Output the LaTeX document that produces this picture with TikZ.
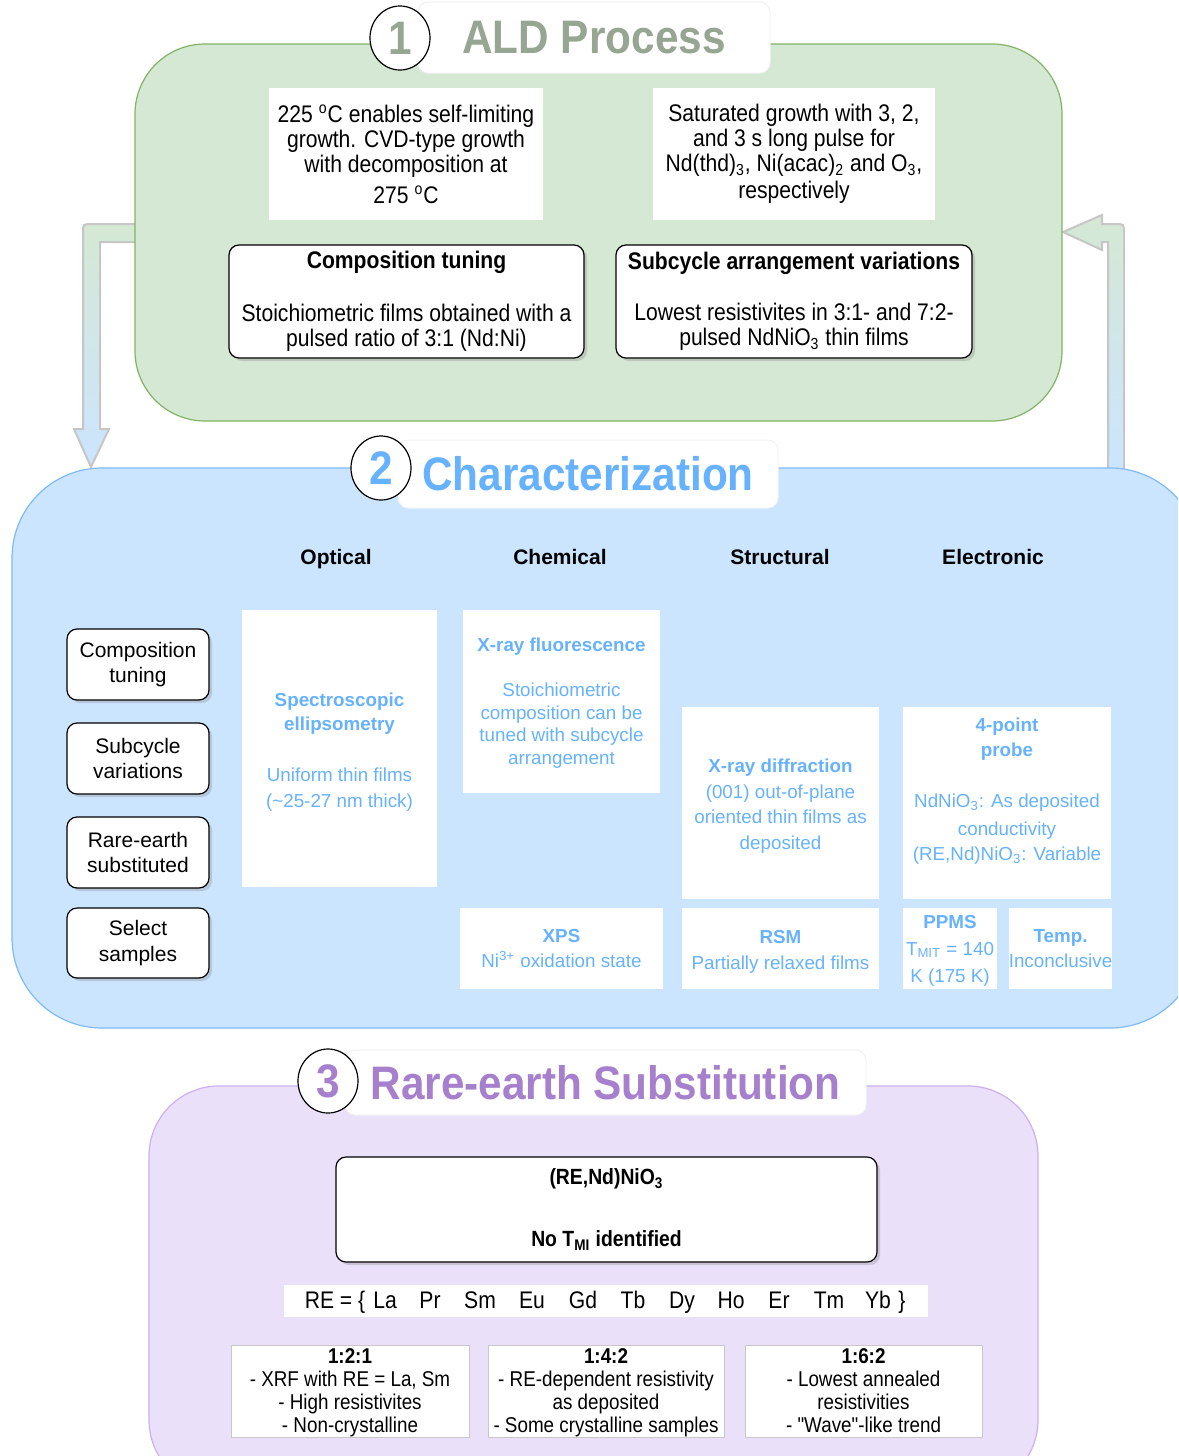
\documentclass[tikz,border=0pt]{standalone}
\usepackage{fontspec}
\setmainfont{Liberation Sans}
\newfontfamily\nsans[FakeStretch=0.88]{Liberation Sans}
\newfontfamily\tsans[FakeStretch=0.9]{Liberation Sans}
\usetikzlibrary{shapes.geometric,shadows}

\definecolor{grfill}{HTML}{D5E8D4}
\definecolor{grline}{HTML}{82B366}
\definecolor{grtitle}{HTML}{97A593}
\definecolor{blfill}{HTML}{CCE5FF}
\definecolor{blline}{HTML}{7FBAF7}
\definecolor{bltext}{HTML}{66B2FF}
\definecolor{pufill}{HTML}{EAE0FA}
\definecolor{puline}{HTML}{CDB0F0}
\definecolor{putitle}{HTML}{A680CC}
\definecolor{arrline}{HTML}{C6C6C6}
\definecolor{thinline}{HTML}{C8C8C8}

\newcommand\titlefont{\tsans\bfseries\fontsize{23.5}{28}\selectfont}
\newcommand\onefont{\nsans\fontsize{12}{12.5}\selectfont}
\newcommand\twofont{\fontsize{9.4}{12.7}\selectfont}
\newcommand\sidefont{\fontsize{10.5}{12.8}\selectfont}
\newcommand\threefont{\nsans\fontsize{10.7}{11.5}\selectfont}
% extra room above the first line of a text block
\newcommand\topgap{\rule{0pt}{10pt}}
\newcommand\smallgap{\rule{0pt}{8.5pt}}

% box from its corners (x1,y1)-(x2,y2), in the picture's units
\newcommand\placebox[7]{%
  \node[#6, minimum width={(#4-#2)*0.5pt}, minimum height={(#5-#3)*0.5pt}]
    (#1) at ({(#2+#4)/2},{(#3+#5)/2}) {#7};}

\tikzset{
  panel/.style={inner sep=0pt, outer sep=0pt, line width=0.6pt},
  tab/.style={fill=white, draw=black!5, rounded corners=5pt, inner sep=0pt, line width=0.5pt},
  numcirc/.style={ellipse, draw=black, fill=white, line width=0.6pt, inner sep=0pt,
    minimum width=30pt, minimum height=32pt, font=\titlefont},
  whitebox/.style={fill=white, inner sep=0pt, outer sep=0pt, align=center},
  roundbox/.style={fill=white, draw=black, rounded corners=5pt, line width=0.6pt,
    align=center, inner sep=0pt, outer sep=0pt,
    drop shadow={shadow xshift=1.5pt, shadow yshift=-1.5pt, opacity=0.3}},
  methodbox/.style={whitebox, text=bltext, font=\twofont},
  ratiobox/.style={whitebox, draw=thinline, line width=0.4pt},
  ratiotext/.style={align=center, inner sep=0pt, font=\threefont},
  colhead/.style={anchor=base, font=\bfseries\fontsize{10.5}{12}\selectfont},
  flowarrow/.style={draw=arrline, line width=1pt, top color=grfill, bottom color=blfill,
    line join=miter}
}

\begin{document}
\begin{tikzpicture}[x=0.5pt,y=-0.5pt]
\useasboundingbox (0,0) rectangle (1178,1456);
\clip (0,0) rectangle (1178,1456);

% feedback arrows between the ALD and characterization panels
\path[flowarrow] (140,242) -- (140,224) -- (92,224) .. controls (83,224) .. (83,233)
  -- (83,429) -- (74,429) -- (91,467) -- (109,429) -- (100,429) -- (100,242) -- cycle;
\path[flowarrow] (1108,469) -- (1108,242) -- (1102,242) -- (1102,250) -- (1063,232)
  -- (1102,215) -- (1102,224) -- (1115,224) .. controls (1124,224) .. (1124,233)
  -- (1124,469) -- cycle;

% the three panels
\placebox{ald}{135}{44}{1062}{421}{panel, fill=grfill, draw=grline, rounded corners=35pt}{}
\placebox{char}{12}{468}{1200}{1028}{panel, fill=blfill, draw=blline, rounded corners=45pt}{}
\placebox{subst}{149}{1086}{1038}{1490}{panel, fill=pufill, draw=puline, rounded corners=35pt}{}

% panel titles
\placebox{aldtab}{418}{2}{770}{73}{tab, text=grtitle, font=\titlefont}{ALD Process}
\node[numcirc, text=grtitle] (n1) at (400,38) {1};
\placebox{chartab}{398}{440}{778}{508}{tab, text=bltext, font=\titlefont}{Characterization}
\node[numcirc, text=bltext] (n2) at (381,468) {2};
\placebox{subtab}{345}{1050}{866}{1115}{tab, text=putitle, font=\titlefont}{Rare-earth Substitution}
\node[numcirc, text=putitle] (n3) at (328,1081) {3};

% ---- 1: ALD process
\placebox{temp}{269}{88}{543}{220}{whitebox, font=\onefont}{225 \textsuperscript{o}C enables self-limiting\\
  growth. CVD-type growth\\ with decomposition at\\[3pt] 275 \textsuperscript{o}C}
\placebox{pulse}{653}{88}{935}{220}{whitebox, font=\onefont}{Saturated growth with 3, 2,\\
  and 3 s long pulse for\\ Nd(thd)\textsubscript{3}, Ni(acac)\textsubscript{2} and O\textsubscript{3},\\[1pt] respectively}
\placebox{comp}{229}{245}{584}{358}{roundbox, font=\onefont}{\textbf{Composition tuning}\\[14pt]
  Stoichiometric films obtained with a\\ pulsed ratio of 3:1 (Nd:Ni)}
\placebox{subc}{616}{245}{972}{358}{roundbox, font=\onefont}{\textbf{Subcycle arrangement variations}\\[13pt]
  Lowest resistivites in 3:1- and 7:2-\\ pulsed NdNiO\textsubscript{3} thin films}

% ---- 2: characterization
\node[colhead] (hopt) at (336,564) {Optical};
\node[colhead] (hchem) at (560,564) {Chemical};
\node[colhead] (hstr) at (780,564) {Structural};
\node[colhead] (hel) at (993,564) {Electronic};

\placebox{s1}{67}{629}{209}{700}{roundbox, font=\sidefont}{Composition\\tuning}
\placebox{s2}{67}{723}{209}{794}{roundbox, font=\sidefont}{Subcycle\\variations}
\placebox{s3}{67}{817}{209}{888}{roundbox, font=\sidefont}{Rare-earth\\substituted}
\placebox{s4}{67}{908}{209}{978}{roundbox, font=\sidefont}{Select\\samples}

\placebox{se}{242}{610}{437}{887}{methodbox, font=\fontsize{9.4}{12}\selectfont}{\topgap\textbf{Spectroscopic}\\
  \textbf{ellipsometry}\\[13.5pt] Uniform thin films\\[1pt] (\textasciitilde25-27 nm thick)}
\placebox{xrf}{463}{610}{660}{793}{methodbox, font=\fontsize{9.4}{11.35}\selectfont}{\smallgap\textbf{X-ray fluorescence}\\[11pt]
  Stoichiometric\\ composition can be\\ tuned with subcycle\\ arrangement}
\placebox{xrd}{682}{707}{879}{899}{methodbox}{\topgap\textbf{X-ray diffraction}\\
  (001) out-of-plane\\ oriented thin films as\\ deposited}
\placebox{fpp}{903}{707}{1111}{899}{methodbox}{}
\node[align=center, text=bltext, font=\fontsize{9.4}{12.5}\selectfont, inner sep=0pt]
  (fpptxt) at ([yshift=6pt]fpp.center) {\textbf{4-point}\\ \textbf{probe}\\[13pt]
  NdNiO\textsubscript{3}: As deposited\\[1.5pt] conductivity\\ (RE,Nd)NiO\textsubscript{3}: Variable};
\placebox{xps}{460}{908}{663}{989}{methodbox}{\textbf{XPS}\\ Ni\textsuperscript{3+} oxidation state}
\placebox{rsm}{682}{908}{879}{989}{methodbox}{\topgap\textbf{RSM}\\ Partially relaxed films}
\placebox{ppms}{903}{908}{997}{989}{methodbox, font=\fontsize{9.4}{13.5}\selectfont}{\smallgap\textbf{PPMS}\\
  T\textsubscript{MIT} = 140\\ K (175 K)}
\placebox{tmp}{1010}{908}{1111}{989}{methodbox}{\textbf{Temp.}\\ Inconclusive}

% ---- 3: rare-earth substitution
\placebox{renio}{336}{1157}{877}{1262}{roundbox, font=\nsans\bfseries\fontsize{11}{12}\selectfont}{(RE,Nd)NiO\textsubscript{3}\\[19pt]
  No T\textsubscript{MI} identified}
\placebox{relist}{284}{1285}{928}{1317}{whitebox}{}
\begin{scope}[every node/.style={font=\nsans\fontsize{12}{14}\selectfont, inner sep=0pt}]
  \node[anchor=base] (reeq) at (335,1308) {RE = \{};
  \foreach \el/\xx in {La/385, Pr/430, Sm/480, Eu/532, Gd/583, Tb/633, Dy/682, Ho/731, Er/779, Tm/829, Yb/878}
    \node[anchor=base] (re\el) at (\xx,1308) {\el};
  \node[anchor=base] (reend) at (902,1308) {\}};
\end{scope}

\placebox{r121}{231}{1345}{469}{1437}{ratiobox}{}
\node[ratiotext] (t121) at ([yshift=-1pt]r121.center) {\strut\textbf{1:2:1}\\ \strut- XRF with RE = La, Sm\\
  \strut- High resistivites\\ \strut- Non-crystalline};
\placebox{r142}{488}{1345}{724}{1437}{ratiobox}{}
\node[ratiotext] (t142) at ([yshift=-1pt]r142.center) {\strut\textbf{1:4:2}\\ \strut- RE-dependent resistivity\\
  \strut as deposited\\ \strut- Some crystalline samples};
\placebox{r162}{745}{1345}{982}{1437}{ratiobox}{}
\node[ratiotext] (t162) at ([yshift=-1pt]r162.center) {\strut\textbf{1:6:2}\\ \strut- Lowest annealed\\
  \strut resistivities\\ \strut- "Wave"-like trend};
\end{tikzpicture}
\end{document}
